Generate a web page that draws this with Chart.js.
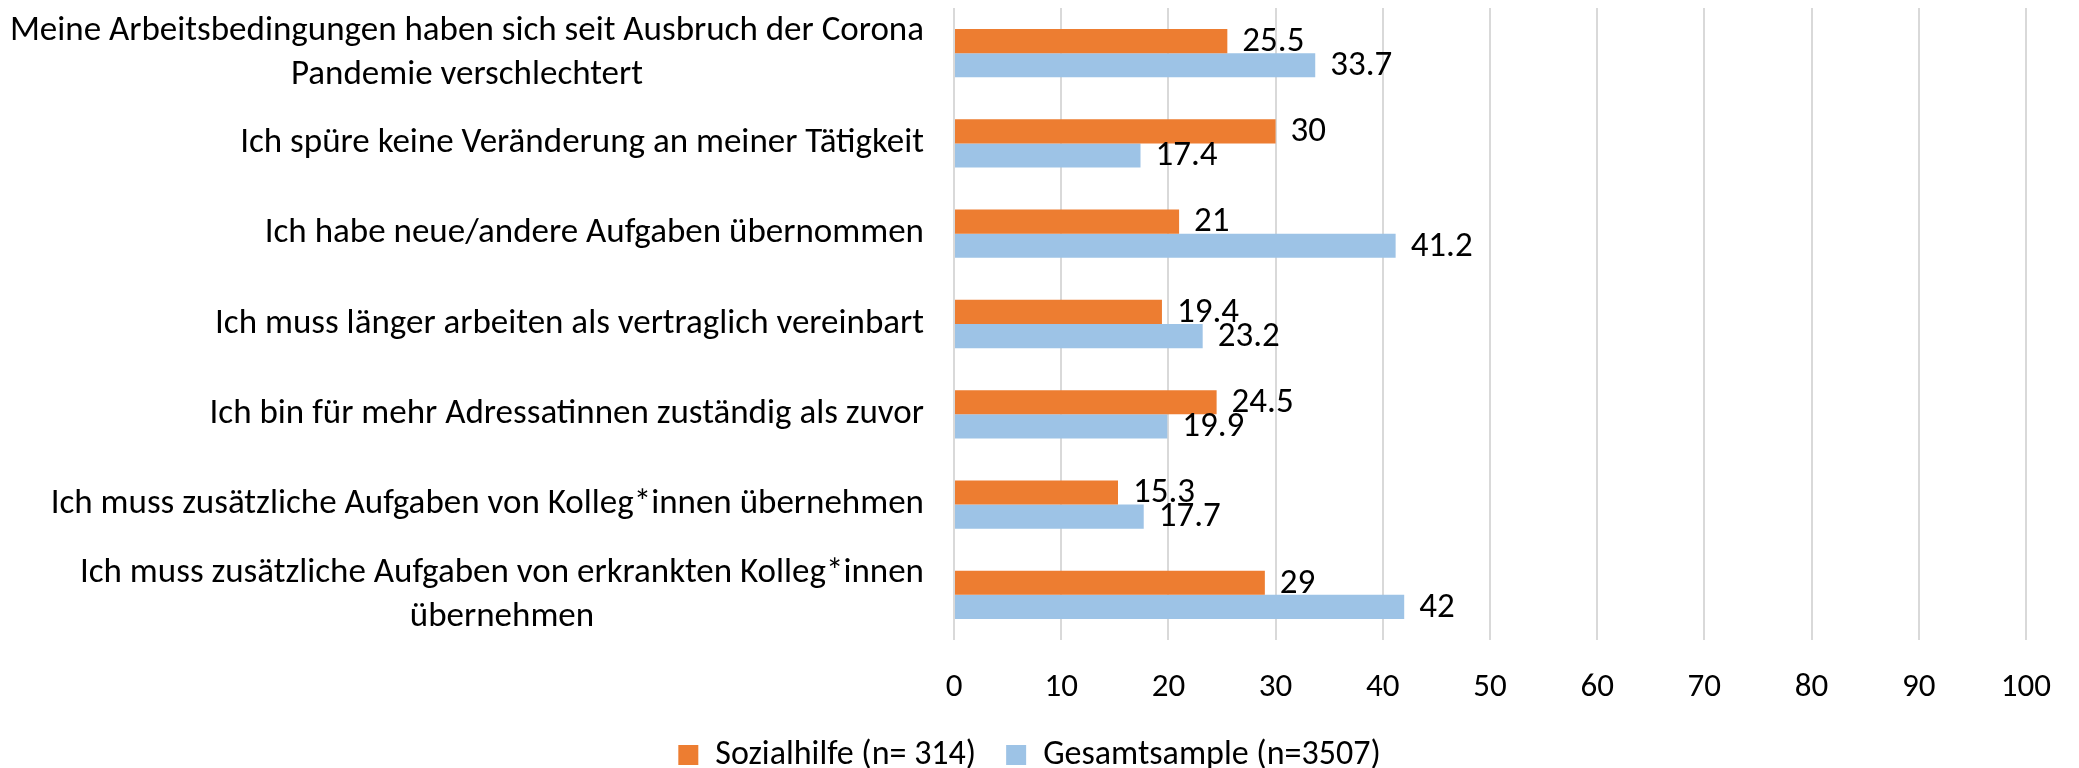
<!DOCTYPE html>
<html>
<head>
<meta charset="utf-8">
<script src="https://cdn.jsdelivr.net/npm/chart.js@4/dist/chart.umd.min.js"></script>
<style>
  html, body { margin: 0; padding: 0; background: #fff; }
  #wrap { width: 2079px; height: 768px; position: relative; }
</style>
</head>
<body>
<div id="wrap"><canvas id="chart"></canvas></div>
<script>
const categories = [
    ['Meine Arbeitsbedingungen haben sich seit Ausbruch der Corona', 'Pandemie verschlechtert'],
    ['Ich spüre keine Veränderung an meiner Tätigkeit'],
    ['Ich habe neue/andere Aufgaben übernommen'],
    ['Ich muss länger arbeiten als vertraglich vereinbart'],
    ['Ich bin für mehr Adressatinnen zuständig als zuvor'],
    ['Ich muss zusätzliche Aufgaben von Kolleg*innen übernehmen'],
    ['Ich muss zusätzliche Aufgaben von erkrankten Kolleg*innen', 'übernehmen']
];
const sozialhilfe = [25.5, 30, 21, 19.4, 24.5, 15.3, 29];
const gesamt = [33.7, 17.4, 41.2, 23.2, 19.9, 17.7, 42];
const xTicks = [0, 10, 20, 30, 40, 50, 60, 70, 80, 90, 100];

const FONT = "Carlito, 'Open Sans', sans-serif";

// category labels, right aligned to the axis, multi-line blocks centred
const catLabels = {
    id: 'catLabels',
    afterDraw(chart) {
        const ctx = chart.ctx;
        const y = chart.scales.y;
        const right = chart.chartArea.left - 30;
        ctx.save();
        ctx.font = '35px ' + FONT;
        ctx.fillStyle = '#000';
        ctx.textAlign = 'center';
        ctx.textBaseline = 'middle';
        categories.forEach((lines, i) => {
            const w = Math.max(...lines.map(l => ctx.measureText(l).width));
            const cx = right - w / 2;
            const cy = y.getPixelForValue(i);
            const lh = 44;
            lines.forEach((l, j) => {
                ctx.fillText(l, cx, cy + (j - (lines.length - 1) / 2) * lh);
            });
        });
        ctx.restore();
    }
};

// value labels at the end of each bar
const valueLabels = {
    id: 'valueLabels',
    afterDatasetsDraw(chart) {
        const ctx = chart.ctx;
        ctx.save();
        ctx.font = '35px ' + FONT;
        ctx.fillStyle = '#000';
        ctx.textAlign = 'left';
        ctx.textBaseline = 'middle';
        chart.data.datasets.forEach((ds, di) => {
            chart.getDatasetMeta(di).data.forEach((el, i) => {
                ctx.fillText(String(ds.data[i]), el.x + 15, el.y + 1);
            });
        });
        ctx.restore();
    }
};

new Chart(document.getElementById('chart'), {
    type: 'bar',
    data: {
        labels: categories.map((c, i) => i),
        datasets: [
            {
                label: 'Sozialhilfe (n= 314)',
                data: sozialhilfe,
                backgroundColor: '#ED7D31'
            },
            {
                label: 'Gesamtsample (n=3507)',
                data: gesamt,
                backgroundColor: '#9DC3E6'
            }
        ]
    },
    options: {
        indexAxis: 'y',
        responsive: true,
        maintainAspectRatio: false,
        animation: false,
        layout: { padding: { top: 8, right: 20, left: 0, bottom: -14 } },
        datasets: {
            bar: { categoryPercentage: 0.535, barPercentage: 1 }
        },
        scales: {
            x: {
                min: 0,
                max: 100,
                afterBuildTicks: (s) => { s.ticks = xTicks.map(v => ({ value: v })); },
                afterFit: (s) => { s.height = 68; },
                grid: { color: '#D9D9D9', lineWidth: 2, drawTicks: false },
                border: { display: false },
                ticks: {
                    color: '#000',
                    padding: 28,
                    font: { family: FONT, size: 33 }
                }
            },
            y: {
                grid: { display: false },
                border: { display: false },
                ticks: { display: false },
                afterFit: (s) => { s.width = 954; }
            }
        },
        plugins: {
            legend: {
                position: 'bottom',
                labels: {
                    color: '#000',
                    boxWidth: 20,
                    boxHeight: 20,
                    padding: 30,
                    font: { family: FONT, size: 34 }
                }
            },
            tooltip: { enabled: false }
        }
    },
    plugins: [catLabels, valueLabels]
});
</script>
</body>
</html>
